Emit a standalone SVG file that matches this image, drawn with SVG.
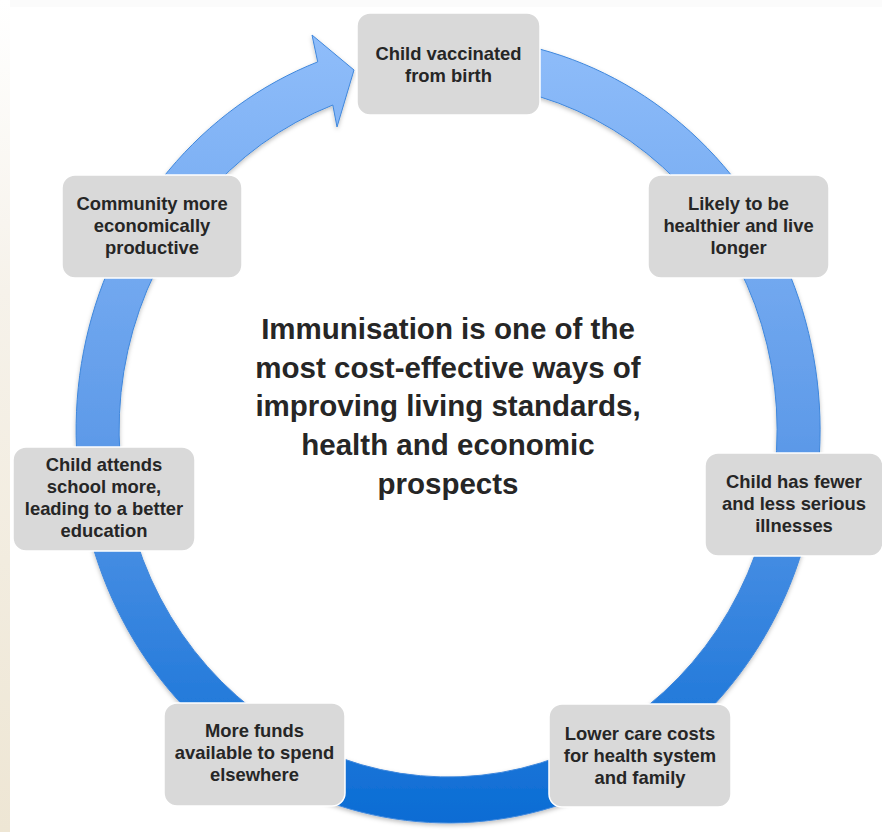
<svg xmlns="http://www.w3.org/2000/svg" width="882" height="832" viewBox="0 0 882 832">
  <defs>
    <linearGradient id="ringFill" gradientUnits="userSpaceOnUse" x1="0" y1="37" x2="0" y2="823">
      <stop offset="0" stop-color="#8fbdfa"/>
      <stop offset="0.5" stop-color="#5f9be9"/>
      <stop offset="1" stop-color="#0a6cd4"/>
    </linearGradient>
    <linearGradient id="edgeTint" x1="0" y1="0" x2="0" y2="1">
      <stop offset="0" stop-color="#ffffff"/>
      <stop offset="0.35" stop-color="#f6f2ea"/>
      <stop offset="1" stop-color="#eee6d4"/>
    </linearGradient>
    <filter id="softShadow" x="-10%" y="-10%" width="120%" height="120%">
      <feDropShadow dx="0" dy="2" stdDeviation="2" flood-color="#000000" flood-opacity="0.25"/>
    </filter>
    <style>
      .box { fill: #d9d9d9; stroke: #ffffff; stroke-width: 1.5; }
      .label { font-family: "Liberation Sans", Arial, sans-serif; font-weight: bold; font-size: 18.4px; fill: #262626; text-anchor: middle; }
      .title { font-family: "Liberation Sans", Arial, sans-serif; font-weight: bold; font-size: 29.5px; fill: #262626; text-anchor: middle; }
    </style>
  </defs>

  <!-- page background -->
  <rect x="0" y="0" width="882" height="832" fill="#fbfbfb"/>
  <rect x="10" y="7" width="872" height="825" fill="#ffffff"/>
  <rect x="0" y="0" width="10" height="832" fill="url(#edgeTint)"/>

  <!-- connectors: one continuous cycle arrow -->
  <g id="connectors">
    <path id="cycle-arrow" filter="url(#softShadow)" fill="url(#ringFill)" stroke="#3f87dc" stroke-width="1"
          d="M 461 37.2
             A 372 393 0 1 1 317.7 61.9
             L 312 35 L 354 70 L 337 127 L 332.8 105
             A 329 347 0 1 0 459.5 83.2 Z"/>
  </g>

  <!-- central statement -->
  <g id="title">
    <text class="title" x="448" y="339">Immunisation is one of the</text>
    <text class="title" x="448" y="377.5">most cost-effective ways of</text>
    <text class="title" x="448" y="416">improving living standards,</text>
    <text class="title" x="448" y="455">health and economic</text>
    <text class="title" x="448" y="494">prospects</text>
  </g>

  <!-- cycle steps -->
  <g id="node-vaccinated">
    <rect class="box" x="357" y="13" width="183" height="102" rx="13"/>
    <text class="label" x="448.5" y="59.5">Child vaccinated</text>
    <text class="label" x="448.5" y="81.5">from birth</text>
  </g>

  <g id="node-healthier">
    <rect class="box" x="648" y="175" width="181" height="103" rx="13"/>
    <text class="label" x="738.5" y="209.5">Likely to be</text>
    <text class="label" x="738.5" y="231.5">healthier and live</text>
    <text class="label" x="738.5" y="253.5">longer</text>
  </g>

  <g id="node-fewer-illnesses">
    <rect class="box" x="705" y="453" width="178" height="103" rx="13"/>
    <text class="label" x="794" y="487.5">Child has fewer</text>
    <text class="label" x="794" y="509.5">and less serious</text>
    <text class="label" x="794" y="531.5">illnesses</text>
  </g>

  <g id="node-lower-costs">
    <rect class="box" x="549" y="704" width="182" height="103" rx="13"/>
    <text class="label" x="640" y="740">Lower care costs</text>
    <text class="label" x="640" y="762">for health system</text>
    <text class="label" x="640" y="784">and family</text>
  </g>

  <g id="node-more-funds">
    <rect class="box" x="164" y="703" width="181" height="103" rx="13"/>
    <text class="label" x="254.5" y="737">More funds</text>
    <text class="label" x="254.5" y="759">available to spend</text>
    <text class="label" x="254.5" y="781">elsewhere</text>
  </g>

  <g id="node-school">
    <rect class="box" x="13" y="447" width="182" height="104" rx="13"/>
    <text class="label" x="104" y="471">Child attends</text>
    <text class="label" x="104" y="493">school more,</text>
    <text class="label" x="104" y="515">leading to a better</text>
    <text class="label" x="104" y="537">education</text>
  </g>

  <g id="node-community">
    <rect class="box" x="62" y="175" width="180" height="103" rx="13"/>
    <text class="label" x="152" y="209.5">Community more</text>
    <text class="label" x="152" y="231.5">economically</text>
    <text class="label" x="152" y="253.5">productive</text>
  </g>
</svg>
